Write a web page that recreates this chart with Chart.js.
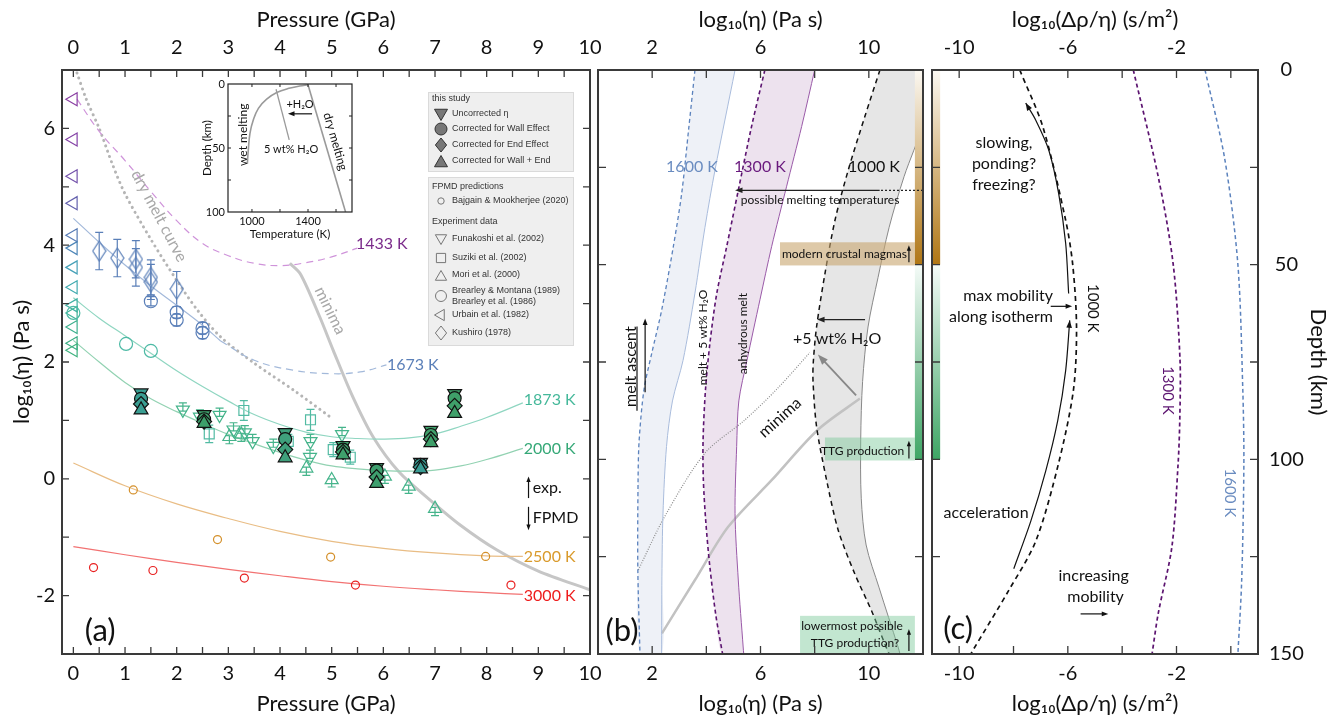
<!DOCTYPE html>
<html>
<head>
<meta charset="utf-8">
<script src="https://cdn.jsdelivr.net/npm/chart.js@4.4.1/dist/chart.umd.min.js"></script>
<style>
  html, body { margin:0; padding:0; background:#ffffff; }
  #wrap { position:relative; width:1336px; height:721px; overflow:hidden; background:#fff; }
  #wrap canvas { position:absolute; left:0; top:0; }
</style>
</head>
<body>
<div id="wrap">
  <canvas id="cA" width="1336" height="721"></canvas>
  <canvas id="cB" width="1336" height="721"></canvas>
  <canvas id="cC" width="1336" height="721"></canvas>
  <canvas id="cI" width="1336" height="721"></canvas>
</div>
<script>
// ================= DATA: panel (a) — pressure (GPa) vs log10 viscosity =================
const aPressureTicks = [0,0.5,1,1.5,2,2.5,3,3.5,4,4.5,5,5.5,6,6.5,7,7.5,8,8.5,9,9.5,10];
const aPressureLabels = [0,1,2,3,4,5,6,7,8,9,10];
const aEtaTicks = [-3,-2,-1,0,1,2,3,4,5,6,7];
const aEtaLabels = [-2,0,2,4,6];

const fit1433P = [0.07,0.5,1,1.5,2,2.5,3,3.5,4,4.5,5,5.5];
const fit1433Eta = [6.5,5.95,5.45,4.92,4.42,4.03,3.82,3.69,3.65,3.7,3.8,3.95];
const fit1673P = [0,0.5,1,1.5,2,2.5,2.85];
const fit1673Eta = [4.46,4.05,3.66,3.3,2.97,2.63,2.36];
const ext1673P = [2.85,3.5,4.25,5,5.55,6.06];
const ext1673Eta = [2.36,2.03,1.86,1.8,1.83,1.95];
const fit1873P = [0,0.5,1,1.5,2,2.5,3,3.5,4,4.5,5,5.5,6,6.5,7,7.5,8,8.7];
const fit1873Eta = [3.1,2.75,2.45,2.15,1.85,1.58,1.33,1.1,0.93,0.8,0.72,0.69,0.68,0.7,0.77,0.9,1.05,1.3];
const fit2000P = [0,0.5,1,1.5,2,2.5,3,3.5,4,4.5,5,5.5,6,6.5,7,7.5,8,8.7];
const fit2000Eta = [2.37,2.0,1.65,1.37,1.15,0.95,0.76,0.6,0.45,0.32,0.22,0.17,0.14,0.13,0.15,0.22,0.33,0.52];
const fit2500P = [0,1,2,3,4,5,6,7,8,8.7];
const fit2500Eta = [0.27,-0.12,-0.43,-0.68,-0.9,-1.07,-1.19,-1.27,-1.32,-1.33];
const fit3000P = [0,1,2,3,4,5,6,7,8,8.7];
const fit3000Eta = [-1.16,-1.3,-1.43,-1.55,-1.66,-1.76,-1.84,-1.9,-1.95,-1.98];
const dryMeltP = [0.07,0.25,0.5,0.75,1,1.5,2,2.4,2.85,3.5,4.26,4.97];
const dryMeltEta = [6.95,6.5,6.0,5.4,4.88,4.1,3.4,2.89,2.43,1.98,1.52,1.06];
const minimaP = [4.19,4.4,4.77,5.03,5.4,5.8,6.3,6.9,7.5,8.2,9,10];
const minimaEta = [3.69,3.5,2.77,2.2,1.42,0.72,0.12,-0.36,-0.8,-1.22,-1.58,-1.9];

// this study
const studyP = [1.31,2.53,4.1,5.22,5.87,6.72,6.92,7.38];
const studyUncorr = [1.47,1.1,0.79,0.57,0.19,0.28,0.83,1.46];
const studyWall = [1.37,1.02,0.68,0.5,0.14,0.24,0.75,1.38];
const studyEnd = [1.28,0.98,0.5,0.46,0.03,0.2,0.68,1.25];
const studyWallEnd = [1.18,0.95,0.36,0.41,-0.08,0.17,0.62,1.12];
// FPMD (Bajgain & Mookherjee 2020)
const baj2500P = [1.16,2.79,4.98,7.98];
const baj2500Eta = [-0.19,-1.04,-1.34,-1.33];
const baj3000P = [0.39,1.54,3.31,5.46,8.47];
const baj3000Eta = [-1.52,-1.57,-1.7,-1.82,-1.82];
// experiments
const funP = [2.12,2.45,2.83,3.1,3.32,3.47,3.87,4.59,4.58,5.2];
const funEta = [1.18,1.06,1.09,0.84,0.79,0.64,0.56,0.64,0.37,0.76];
const funErr = [0.07,0.07,0.07,0.07,0.07,0.07,0.07,0.07,0.07,0.07];
const suzP = [2.63,3.3,4.16,4.59,5.03,5.36];
const suzEta = [0.77,1.17,0.64,1.01,0.5,0.37];
const suzErr = [0.15,0.17,0.12,0.18,0.12,0.12];
const moriP = [3.02,3.25,4.51,5.0,6.03,6.49,7.0];
const moriEta = [0.72,0.76,0.18,-0.02,0.04,-0.13,-0.51];
const moriErr = [0.07,0.07,0.07,0.07,0.07,0.07,0.07];
const brear1673P = [1.5,2.0,2.0,2.5,2.5];
const brear1673Eta = [3.04,2.85,2.72,2.58,2.5];
const brear1673Err = [0.08,0.1,0.1,0.1,0.1];
const brear1873P = [0,1.02,1.5];
const brear1873Eta = [2.84,2.31,2.19];
const urbainP = [0,0,0,0,0,0,0,0,0,0,0,0,0];
const urbainEta = [6.5,5.81,5.18,4.72,4.17,3.95,3.62,3.28,2.97,2.84,2.6,2.32,2.2];
const kushiroP = [0.5,0.85,1.21,1.21,1.5,1.5,2.0];
const kushiroEta = [3.9,3.78,3.76,3.62,3.45,3.37,3.25];
const kushiroErr = [0.32,0.32,0.32,0.32,0.3,0.3,0.3];

// inset — temperature (K) vs depth (km)
const insetTTicks = [1000,1200,1400,1600];
const insetTLabels = [1000,1400];
const insetDTicks = [0,25,50,75,100];
const insetDLabels = [0,50,100];
const wetT = [967,974,986,1010,1046,1105,1177,1264,1340,1400];
const wetD = [62.5,51.4,38.4,28,19,11.9,6.7,3.4,1.6,0.6];
const wet5T = [1172,1266];
const wet5D = [4.1,43.6];
const dryT = [1400,1668];
const dryD = [0.6,100];

// ================= DATA: panel (b) — log10 viscosity vs depth =================
const bEtaTicks = [0,2,4,6,8,10,12];
const bEtaLabels = [2,6,10];
const depthTicks = [0,25,50,75,100,125,150];
const depthLabels = [0,50,100,150];
const b1600WetD = [0,15,31.7,45.4,61.7,72.9,82,95,105,128,150];
const b1600WetX = [3.58,3.35,3.09,2.78,2.35,1.98,1.7,1.52,1.48,1.47,1.55];
const b1600DryD = [0,25.7,40.4,57.3,74.6,85,96.7,113.8,130,150];
const b1600DryX = [5.06,4.32,3.95,3.58,3.14,2.75,2.53,2.4,2.36,2.35];
const b1300WetD = [0,14.5,30.9,45.4,57.6,70.3,82,95,105.3,116,127.6,140,150];
const b1300WetX = [6.16,5.67,5.18,4.75,4.38,4.13,3.97,3.88,3.89,3.98,4.13,4.35,4.6];
const b1300DryD = [0,14.5,30,45.4,59,74.6,85,96.7,113.9,131,148.2,150];
const b1300DryX = [8.0,7.52,6.96,6.41,5.98,5.5,5.2,5.12,5.06,5.18,5.36,5.38];
const b1000WetD = [0,12,25.7,38.6,52.3,66,75,80,91.6,105.3,118.2,129.4,138.9,147.6,150];
const b1000WetX = [10.41,9.85,9.24,8.75,8.38,8.07,7.95,7.94,8.07,8.44,8.87,9.48,10.1,10.6,10.75];
const b1000DryD = [0,13.7,27.4,40.4,53.3,66,80,95,110,122,133,148.2,150];
const b1000DryX = [12.3,12.0,11.3,10.75,10.34,9.97,9.77,9.7,9.72,9.9,10.38,11.08,11.15];
const bHydMinD = [128.4,114.6,98.4,89.9,82,72.6];
const bHydMinX = [1.49,2.47,3.95,5.42,6.6,7.82];
const bMinimaD = [144.7,131,117.4,105.3,92.4,84.4];
const bMinimaX = [2.36,3.58,4.8,6.42,8.12,9.67];

// ================= DATA: panel (c) — log10(Δρ/η) vs depth =================
const cMobTicks = [-10,-8,-6,-4,-2,0];
const cMobLabels = [-10,-6,-2];
const c1000D = [0,14.6,38.6,50,66,82,101,121,133.6,149,150];
const c1000X = [-7.77,-6.92,-6.08,-5.82,-5.68,-5.79,-6.34,-7.18,-8.17,-9.49,-9.57];
const c1300D = [0,27.5,50,74.6,90,101,122.5,139.5,150];
const c1300X = [-3.59,-2.67,-2.12,-1.87,-1.88,-1.94,-2.17,-2.67,-2.9];
const c1600D = [0,23,50,82,101,131,150];
const c1600X = [-0.95,-0.22,0.26,0.44,0.48,0.4,0.26];
const cSlowD = [57.4,44.5,31.6,20.6,12.9,8.5];
const cSlowX = [-5.97,-6.08,-6.34,-6.7,-7.18,-7.55];
const cAccelD = [128.1,115.8,102.9,90,77.2,64.3];
const cAccelX = [-7.99,-7.36,-6.81,-6.37,-6.08,-5.93];

// ================= helpers =================
Chart.defaults.font.family = 'Lato, "Open Sans", "DejaVu Sans", sans-serif';
Chart.defaults.color = '#111';
Chart.defaults.animation = false;
Chart.defaults.plugins.legend.display = false;
Chart.defaults.plugins.tooltip.enabled = false;

const mk = (xs, ys) => xs.map((x, i) => ({x: x, y: ys[i]}));
const curve = (xs, ys, color, extra) => Object.assign({data: mk(xs, ys), showLine: true, borderColor: color, borderWidth: 1.2, pointRadius: 0, tension: 0.4, fill: false, order: 10}, extra || {});
const band = (wx, wy, dx, dy, color) => ({data: mk(wx, wy).concat(mk(dx, dy).reverse()), showLine: true, borderWidth: 0, borderColor: 'rgba(0,0,0,0)', backgroundColor: color, fill: 'shape', pointRadius: 0, tension: 0.3, order: 30});
const marks = (xs, ys, style, r, color, extra) => Object.assign({data: mk(xs, ys), showLine: false, pointStyle: style, pointRadius: r, pointBorderColor: color, pointBackgroundColor: 'rgba(255,255,255,0)', pointBorderWidth: 1.2, order: 5}, extra || {});

// elongated open diamond glyph (Kushiro 1978 marker)
function diamondGlyph(w, h, color) {
  const c = document.createElement('canvas'); c.width = w + 2; c.height = h + 2;
  const g = c.getContext('2d'); g.strokeStyle = color; g.lineWidth = 1.2;
  g.beginPath(); g.moveTo(c.width / 2, 1); g.lineTo(c.width - 1, c.height / 2); g.lineTo(c.width / 2, c.height - 1); g.lineTo(1, c.height / 2); g.closePath(); g.stroke();
  return c;
}

function hAxis(pos, min, max, ticks, labels, title, h, pad, tpad, fs, tfs) {
  return {type: 'linear', position: pos, min: min, max: max,
    afterBuildTicks: s => { s.ticks = ticks.map(v => ({value: v})); },
    afterFit: s => { s.height = h; },
    grid: {display: false, drawTicks: false}, border: {display: false},
    ticks: {autoSkip: false, maxRotation: 0, minRotation: 0, padding: pad, color: '#111', font: {size: fs || 20},
      callback: v => labels.includes(v) ? String(v) : ''},
    title: {display: !!title, text: title, color: '#111', font: {size: tfs || 22}, padding: tpad}};
}
function vAxis(pos, min, max, ticks, labels, title, w, pad, tpad, reverse, fs, tfs, cross) {
  return {type: 'linear', position: pos, min: min, max: max, reverse: !!reverse,
    afterBuildTicks: s => { s.ticks = ticks.map(v => ({value: v})); },
    afterFit: s => { s.width = w; },
    grid: {display: false, drawTicks: false}, border: {display: false},
    ticks: {autoSkip: false, padding: pad, color: '#111', font: {size: fs || 20}, crossAlign: cross || 'near',
      callback: v => labels.includes(v) ? String(v) : ''},
    title: {display: !!title, text: title, color: '#111', font: {size: tfs || 22}, padding: tpad}};
}

function P(chart, x, y) { return [chart.scales.x.getPixelForValue(x), chart.scales.y.getPixelForValue(y)]; }
function head(ctx, x1, y1, x2, y2, size, color) {
  const ang = Math.atan2(y2 - y1, x2 - x1);
  ctx.save(); ctx.fillStyle = color; ctx.beginPath();
  ctx.moveTo(x2, y2);
  ctx.lineTo(x2 - size * Math.cos(ang - 0.36), y2 - size * Math.sin(ang - 0.36));
  ctx.lineTo(x2 - size * Math.cos(ang + 0.36), y2 - size * Math.sin(ang + 0.36));
  ctx.closePath(); ctx.fill(); ctx.restore();
}
function drawMarker(ctx, style, x, y, r, rot, fill, stroke, lw) {
  ctx.save(); ctx.beginPath();
  let a = (rot || 0) * Math.PI / 180;
  if (style === 'circle') ctx.arc(x, y, r, 0, Math.PI * 2);
  else if (style === 'triangle') {
    ctx.moveTo(x + Math.sin(a) * r, y - Math.cos(a) * r); a += 2 * Math.PI / 3;
    ctx.lineTo(x + Math.sin(a) * r, y - Math.cos(a) * r); a += 2 * Math.PI / 3;
    ctx.lineTo(x + Math.sin(a) * r, y - Math.cos(a) * r); ctx.closePath();
  } else if (style === 'rectRot') { ctx.moveTo(x, y - r); ctx.lineTo(x + r * 0.8, y); ctx.lineTo(x, y + r); ctx.lineTo(x - r * 0.8, y); ctx.closePath(); }
  else if (style === 'rect') { const s = r * Math.SQRT1_2; ctx.rect(x - s, y - s, 2 * s, 2 * s); }
  if (fill) { ctx.fillStyle = fill; ctx.fill(); }
  ctx.strokeStyle = stroke; ctx.lineWidth = lw; ctx.stroke(); ctx.restore();
}
function drawLegend(ctx) {
  ctx.save();
  ctx.fillStyle = '#efefef'; ctx.strokeStyle = '#dadada'; ctx.lineWidth = 1;
  ctx.fillRect(428.5, 92.5, 145, 79); ctx.strokeRect(428.5, 92.5, 145, 79);
  ctx.fillRect(428.5, 177.5, 145, 168); ctx.strokeRect(428.5, 177.5, 145, 168);
  ctx.font = '9px "Liberation Sans", Arial, sans-serif'; ctx.fillStyle = '#333';
  ctx.textAlign = 'left'; ctx.textBaseline = 'middle';
  const T = (s, x, y) => { ctx.fillStyle = '#333'; ctx.fillText(s, x, y); };
  T('this study', 432, 99);
  drawMarker(ctx, 'triangle', 441, 113, 7.5, 180, '#777', '#333', 1); T('Uncorrected η', 452, 114);
  drawMarker(ctx, 'circle', 441, 129, 6, 0, '#777', '#333', 1); T('Corrected for Wall Effect', 452, 129);
  drawMarker(ctx, 'rectRot', 441, 145, 7, 0, '#777', '#333', 1); T('Corrected for End Effect', 452, 145);
  drawMarker(ctx, 'triangle', 441, 163, 7.5, 0, '#777', '#333', 1); T('Corrected for Wall + End', 452, 161);
  T('FPMD predictions', 432, 187);
  drawMarker(ctx, 'circle', 441, 201, 3.2, 0, null, '#777', 1); T('Bajgain & Mookherjee (2020)', 452, 201);
  T('Experiment data', 432, 222);
  drawMarker(ctx, 'triangle', 441, 238, 6.5, 180, null, '#777', 1); T('Funakoshi et al. (2002)', 452, 239);
  drawMarker(ctx, 'rect', 441, 258, 6.5, 0, null, '#777', 1); T('Suziki et al. (2002)', 452, 258);
  drawMarker(ctx, 'triangle', 441, 277, 6.5, 0, null, '#777', 1); T('Mori et al. (2000)', 452, 275);
  drawMarker(ctx, 'circle', 441, 296, 5.5, 0, null, '#777', 1); T('Brearley & Montana (1989)', 452, 291); T('Brearley et al. (1986)', 452, 302);
  drawMarker(ctx, 'triangle', 441, 315, 6.5, 270, null, '#777', 1); T('Urbain et al. (1982)', 452, 315);
  drawMarker(ctx, 'rectRot', 441, 333, 7, 0, null, '#777', 1); T('Kushiro (1978)', 452, 333);
  ctx.restore();
}

const DECO = {};
const deco = {
  id: 'deco',
  beforeDraw(chart) {
    const o = DECO[chart.canvas.id]; if (!o || !o.whiteArea) return;
    const a = chart.chartArea, ctx = chart.ctx;
    ctx.save(); ctx.fillStyle = '#fff'; ctx.fillRect(a.left, a.top, a.right - a.left, a.bottom - a.top); ctx.restore();
  },
  beforeDatasetsDraw(chart) {
    const o = DECO[chart.canvas.id]; if (!o) return;
    const ctx = chart.ctx, a = chart.chartArea;
    ctx.save(); ctx.beginPath(); ctx.rect(a.left, a.top, a.right - a.left, a.bottom - a.top); ctx.clip();
    (o.errorBars || []).forEach(eb => {
      ctx.strokeStyle = eb.color; ctx.lineWidth = 1.2;
      eb.xs.forEach((xv, i) => {
        const [x, y1] = P(chart, xv, eb.ys[i] - eb.errs[i]);
        const y2 = P(chart, xv, eb.ys[i] + eb.errs[i])[1];
        ctx.beginPath(); ctx.moveTo(x, y1); ctx.lineTo(x, y2);
        ctx.moveTo(x - eb.cap, y1); ctx.lineTo(x + eb.cap, y1);
        ctx.moveTo(x - eb.cap, y2); ctx.lineTo(x + eb.cap, y2);
        ctx.stroke();
      });
    });
    ctx.restore();
  },
  afterDatasetsDraw(chart) {
    const o = DECO[chart.canvas.id]; if (!o) return;
    const ctx = chart.ctx, a = chart.chartArea;
    ctx.save(); ctx.beginPath(); ctx.rect(a.left, a.top, a.right - a.left, a.bottom - a.top); ctx.clip();
    (o.boxes || []).forEach(b => {
      const [x1, y1] = P(chart, b.x1, b.y1), [x2, y2] = P(chart, b.x2, b.y2);
      ctx.fillStyle = b.color; ctx.fillRect(Math.min(x1, x2), Math.min(y1, y2), Math.abs(x2 - x1), Math.abs(y2 - y1));
    });
    (o.strips || []).forEach(s => {
      const x1 = P(chart, s.x1, 0)[0], x2 = P(chart, s.x2, 0)[0];
      s.bands.forEach(b => {
        const y1 = P(chart, s.x1, b.d1)[1], y2 = P(chart, s.x1, b.d2)[1];
        const g = ctx.createLinearGradient(0, y1, 0, y2); g.addColorStop(0, b.c1); g.addColorStop(1, b.c2);
        ctx.fillStyle = g; ctx.fillRect(Math.min(x1, x2), y1, Math.abs(x2 - x1), y2 - y1);
      });
    });
    (o.segs || []).forEach(l => {
      const [x1, y1] = P(chart, l.x1, l.y1), [x2, y2] = P(chart, l.x2, l.y2);
      ctx.save(); ctx.strokeStyle = l.color || '#222'; ctx.lineWidth = l.w || 1.2; ctx.setLineDash(l.dash || []);
      ctx.beginPath(); ctx.moveTo(x1, y1); ctx.lineTo(x2, y2); ctx.stroke(); ctx.restore();
    });
    (o.arrows || []).forEach(l => {
      const [x1, y1] = P(chart, l.x1, l.y1), [x2, y2] = P(chart, l.x2, l.y2);
      const ang = Math.atan2(y2 - y1, x2 - x1), sz = l.size || 7;
      ctx.save(); ctx.strokeStyle = l.color || '#111'; ctx.lineWidth = l.w || 1.2;
      ctx.beginPath(); ctx.moveTo(x1, y1); ctx.lineTo(x2 - Math.cos(ang) * sz * 0.6, y2 - Math.sin(ang) * sz * 0.6); ctx.stroke(); ctx.restore();
      head(ctx, x1, y1, x2, y2, sz, l.color || '#111');
    });
    (o.heads || []).forEach(h => {
      const n = h.xs.length;
      const [x1, y1] = P(chart, h.xs[n - 2], h.ys[n - 2]), [x2, y2] = P(chart, h.xs[n - 1], h.ys[n - 1]);
      head(ctx, x1, y1, x2, y2, h.size || 8, h.color || '#111');
    });
    ctx.restore();
    (o.texts || []).forEach(t => {
      const [x, y] = P(chart, t.x, t.y);
      ctx.save(); ctx.translate(x, y); if (t.rot) ctx.rotate(t.rot * Math.PI / 180);
      ctx.font = t.font || '16px Lato'; ctx.fillStyle = t.color || '#111';
      ctx.textAlign = t.align || 'center'; ctx.textBaseline = 'middle';
      ctx.fillText(t.t, 0, 0); ctx.restore();
    });
    if (o.legend) drawLegend(ctx);
  },
  afterDraw(chart) {
    const o = DECO[chart.canvas.id]; if (!o || !o.frame) return;
    const f = o.frame, ctx = chart.ctx, a = chart.chartArea, xs = chart.scales.x, ys = chart.scales.y;
    ctx.save(); ctx.strokeStyle = f.color; ctx.lineWidth = f.tickWidth; ctx.beginPath();
    f.xTicks.forEach(v => { const p = xs.getPixelForValue(v); if (p <= a.left + 1 || p >= a.right - 1) return;
      ctx.moveTo(p, a.top); ctx.lineTo(p, a.top + f.len); ctx.moveTo(p, a.bottom); ctx.lineTo(p, a.bottom - f.len); });
    f.yTicks.forEach(v => { const p = ys.getPixelForValue(v); if (p <= a.top + 1 || p >= a.bottom - 1) return;
      ctx.moveTo(a.left, p); ctx.lineTo(a.left + f.len, p); ctx.moveTo(a.right, p); ctx.lineTo(a.right - f.len, p); });
    ctx.stroke();
    ctx.lineWidth = f.width; ctx.strokeRect(a.left, a.top, a.right - a.left, a.bottom - a.top);
    ctx.restore();
  }
};

// ================= colours =================
const col1433 = '#cf93da', col1673 = '#a3b9da', col1873 = '#8fd6c1', col2000 = '#92d2b2', col2500 = '#e9bd85', col3000 = '#f27272';
const blueMk = '#5a7fb8', tealMk = '#4dbaa5', greenMk = '#45b48b';
const studyColors = ['#3a9e92','#3d9f6a','#3fa07c','#3fa06c','#3e9f6e','#3a9c94','#3f9f6a','#3fa06a'];
const urbainColors = ['#8a3fa3','#8442a6','#7351aa','#6461ad','#567ab4','#4f87b8','#47a1b8','#42abb0','#3fb0a3','#3fb39a','#3eb08e','#3cad84','#3fb27f'];

// ================= Panel (a) =================
DECO.cA = {
  legend: true,
  frame: {xTicks: aPressureTicks, yTicks: aEtaTicks, len: 7, color: '#3a3a3a', width: 2, tickWidth: 1.3},
  errorBars: [
    {xs: kushiroP, ys: kushiroEta, errs: kushiroErr, color: blueMk, cap: 4},
    {xs: brear1673P, ys: brear1673Eta, errs: brear1673Err, color: blueMk, cap: 4},
    {xs: suzP, ys: suzEta, errs: suzErr, color: '#52bba3', cap: 4},
    {xs: funP, ys: funEta.map(v => v + 0.05), errs: funErr, color: greenMk, cap: 4},
    {xs: moriP, ys: moriEta.map(v => v - 0.05), errs: moriErr, color: greenMk, cap: 4}
  ],
  texts: [
    {t: '(a)', x: 0.52, y: -2.6, font: '31px Lato'},
    {t: '1433 K', x: 5.97, y: 4.02, color: '#7a2a8a', font: '16px Lato'},
    {t: '1673 K', x: 6.57, y: 1.95, color: '#5a7fb8', font: '16px Lato'},
    {t: '1873 K', x: 9.22, y: 1.35, color: '#45b89a', font: '16px Lato'},
    {t: '2000 K', x: 9.22, y: 0.51, color: '#35a877', font: '16px Lato'},
    {t: '2500 K', x: 9.22, y: -1.33, color: '#d99a2b', font: '16px Lato'},
    {t: '3000 K', x: 9.22, y: -2.0, color: '#ee1c1c', font: '16px Lato'},
    {t: 'exp.', x: 8.89, y: -0.15, align: 'left', font: '16px Lato'},
    {t: 'FPMD', x: 8.89, y: -0.67, align: 'left', font: '16px Lato'},
    {t: 'dry melt curve', x: 1.66, y: 4.5, rot: 62, color: '#a8a8a8', font: '16px Lato'},
    {t: 'minima', x: 4.97, y: 2.88, rot: 64, color: '#a8a8a8', font: '16px Lato'}
  ],
  arrows: [
    {x1: 8.81, y1: -0.33, x2: 8.81, y2: 0.04, size: 6},
    {x1: 8.81, y1: -0.48, x2: 8.81, y2: -0.88, size: 6}
  ]
};
new Chart(document.getElementById('cA'), {
  type: 'scatter',
  data: {datasets: [
    marks(studyP, studyWallEnd, 'triangle', 8, '#111', {pointBackgroundColor: studyColors, order: 0}),
    marks(studyP, studyEnd, 'rectRot', 7.5, '#111', {pointBackgroundColor: studyColors, order: 1}),
    marks(studyP, studyWall, 'circle', 6.5, '#111', {pointBackgroundColor: studyColors, order: 2}),
    marks(studyP, studyUncorr, 'triangle', 8, '#111', {pointBackgroundColor: studyColors, pointRotation: 180, order: 3}),
    marks(funP, funEta, 'triangle', 7.5, greenMk, {pointRotation: 180}),
    marks(moriP, moriEta, 'triangle', 7.5, greenMk),
    marks(suzP, suzEta, 'rect', 7, '#52bba3'),
    marks(kushiroP, kushiroEta, diamondGlyph(13, 20, blueMk), 9, blueMk),
    marks(brear1673P, brear1673Eta, 'circle', 6.5, blueMk),
    marks(brear1873P, brear1873Eta, 'circle', 6.5, tealMk),
    marks(urbainP, urbainEta, 'triangle', 7.5, urbainColors, {pointRotation: 270}),
    marks(baj2500P, baj2500Eta, 'circle', 4, '#d4902a'),
    marks(baj3000P, baj3000Eta, 'circle', 4, '#e82020'),
    curve(fit1433P, fit1433Eta, col1433, {borderDash: [7, 5]}),
    curve(fit1673P, fit1673Eta, col1673),
    curve(ext1673P, ext1673Eta, col1673, {borderDash: [7, 5]}),
    curve(fit1873P, fit1873Eta, col1873),
    curve(fit2000P, fit2000Eta, col2000),
    curve(fit2500P, fit2500Eta, col2500),
    curve(fit3000P, fit3000Eta, col3000),
    curve(dryMeltP, dryMeltEta, '#b5b5b5', {borderWidth: 3, borderDash: [0.1, 5.5], borderCapStyle: 'round', tension: 0.3}),
    curve(minimaP, minimaEta, '#c6c6c6', {borderWidth: 3, tension: 0.3})
  ]},
  options: {
    responsive: false, devicePixelRatio: 1, animation: false,
    layout: {padding: {left: 0, right: 746, top: 0, bottom: 0}},
    scales: {
      x: hAxis('bottom', -0.22, 10, aPressureTicks, aPressureLabels, 'Pressure (GPa)', 67, 8, {top: 7, bottom: 4}),
      x2: hAxis('top', -0.22, 10, aPressureTicks, aPressureLabels, 'Pressure (GPa)', 70, 10, {top: 7, bottom: 4}),
      y: vAxis('left', -3, 7, aEtaTicks, aEtaLabels, 'log₁₀(η) (Pa s)', 62, 7, {top: 9}, false)
    },
    plugins: {legend: {display: false}, tooltip: {enabled: false}}
  },
  plugins: [deco]
});

// ================= Panel (b) =================
const brownBand = {d1: 0, d2: 50, c1: '#fbf8f2', c2: '#b07614'};
const greenBand = {d1: 50, d2: 100, c1: '#f5fbf8', c2: '#3ea565'};
DECO.cB = {
  frame: {xTicks: bEtaTicks, yTicks: depthTicks, len: 8, color: '#3a3a3a', width: 2, tickWidth: 1.3},
  boxes: [
    {x1: 6.72, x2: 11.7, y1: 44.25, y2: 50.2, color: 'rgba(200,165,110,0.6)'},
    {x1: 8.38, x2: 11.7, y1: 94.4, y2: 100.3, color: 'rgba(120,200,150,0.45)'},
    {x1: 7.46, x2: 11.7, y1: 140.2, y2: 150, color: 'rgba(120,200,150,0.45)'}
  ],
  strips: [{x1: 11.7, x2: 12, bands: [brownBand, greenBand]}],
  segs: [
    {x1: 12, y1: 30.9, x2: 10.4, y2: 30.9, dash: [2, 2], color: '#222'},
    {x1: 1.44, y1: 65.9, x2: 1.44, y2: 87.5, color: '#111', w: 1.2}
  ],
  arrows: [
    {x1: 10.4, y1: 30.9, x2: 5.06, y2: 30.9, color: '#222', size: 8},
    {x1: 9.86, y1: 64.1, x2: 8.09, y2: 64.1, color: '#222', size: 8},
    {x1: 9.53, y1: 83.6, x2: 8.12, y2: 73.1, color: '#888', w: 1.8, size: 11},
    {x1: 11.48, y1: 49.4, x2: 11.48, y2: 45, size: 6},
    {x1: 11.48, y1: 99.8, x2: 11.48, y2: 95.2, size: 6},
    {x1: 11.48, y1: 149.2, x2: 11.48, y2: 143.6, size: 6},
    {x1: 1.74, y1: 82.8, x2: 1.74, y2: 63.8, size: 7}
  ],
  texts: [
    {t: '1600 K', x: 3.47, y: 25, color: '#6a8cc0', font: '16px Lato'},
    {t: '1300 K', x: 5.98, y: 25, color: '#6a1a7e', font: '16px Lato'},
    {t: '1000 K', x: 10.19, y: 25, color: '#111', font: '16px Lato'},
    {t: 'possible melting temperatures', x: 8.2, y: 33.3, font: '12px Lato'},
    {t: 'modern crustal magmas', x: 9.1, y: 47.3, font: '12px Lato'},
    {t: '+5 wt% H₂O', x: 8.83, y: 69, font: '16px Lato'},
    {t: 'melt + 5 wt% H₂O', x: 3.88, y: 68.7, rot: -90, font: '12px Lato'},
    {t: 'anhydrous melt', x: 5.35, y: 67.7, rot: -90, font: '12px Lato'},
    {t: 'melt ascent', x: 1.2, y: 76.2, rot: -90, font: '16px Lato'},
    {t: 'minima', x: 6.72, y: 89.3, rot: -42, font: '16px Lato'},
    {t: 'TTG production', x: 9.77, y: 97.8, font: '12px Lato'},
    {t: 'lowermost possible', x: 9.38, y: 142.8, font: '12px Lato'},
    {t: 'TTG production?', x: 9.49, y: 147.2, font: '12px Lato'},
    {t: '(b)', x: 0.89, y: 144.1, font: '31px Lato'}
  ]
};
new Chart(document.getElementById('cB'), {
  type: 'scatter',
  data: {datasets: [
    curve(b1600WetX, b1600WetD, '#5b82bd', {borderDash: [4, 3], borderWidth: 1.3, tension: 0.3, order: 5}),
    curve(b1600DryX, b1600DryD, '#a9bcdc', {borderWidth: 1, tension: 0.3, order: 5}),
    curve(b1300WetX, b1300WetD, '#5c1470', {borderDash: [4, 3], borderWidth: 1.6, tension: 0.3, order: 5}),
    curve(b1300DryX, b1300DryD, '#9a5aa8', {borderWidth: 1, tension: 0.3, order: 5}),
    curve(b1000WetX, b1000WetD, '#111', {borderDash: [5, 4], borderWidth: 1.5, tension: 0.3, order: 5}),
    curve(b1000DryX, b1000DryD, '#888', {borderWidth: 1, tension: 0.3, order: 5}),
    curve(bHydMinX, bHydMinD, '#8a8a8a', {borderDash: [1, 1.5], borderWidth: 1.2, tension: 0.3, order: 6}),
    curve(bMinimaX, bMinimaD, '#c2c2c2', {borderWidth: 2.5, tension: 0.3, order: 7}),
    band(b1600WetX, b1600WetD, b1600DryX, b1600DryD, '#eef1f7'),
    band(b1300WetX, b1300WetD, b1300DryX, b1300DryD, '#ede2ee'),
    band(b1000WetX, b1000WetD, b1000DryX, b1000DryD, '#e6e6e6')
  ]},
  options: {
    responsive: false, devicePixelRatio: 1, animation: false,
    layout: {padding: {left: 598, right: 413, top: 0, bottom: 0}},
    scales: {
      x: hAxis('bottom', 0, 12, bEtaTicks, bEtaLabels, 'log₁₀(η) (Pa s)', 67, 8, {top: 7, bottom: 4}),
      x2: hAxis('top', 0, 12, bEtaTicks, bEtaLabels, 'log₁₀(η) (Pa s)', 70, 10, {top: 7, bottom: 4}),
      y: {type: 'linear', display: false, min: 0, max: 150, reverse: true}
    },
    plugins: {legend: {display: false}, tooltip: {enabled: false}}
  },
  plugins: [deco]
});

// ================= Panel (c) =================
DECO.cC = {
  frame: {xTicks: cMobTicks, yTicks: depthTicks, len: 8, color: '#3a3a3a', width: 2, tickWidth: 1.3},
  strips: [{x1: -11, x2: -10.7, bands: [brownBand, greenBand]}],
  arrows: [
    {x1: -6.63, y1: 60.7, x2: -5.84, y2: 60.7, size: 7},
    {x1: -5.53, y1: 139.7, x2: -4.51, y2: 139.7, size: 7}
  ],
  heads: [
    {xs: cSlowX, ys: cSlowD, size: 8},
    {xs: cAccelX, ys: cAccelD, size: 8}
  ],
  texts: [
    {t: 'slowing,', x: -8.35, y: 18.8, font: '16px Lato'},
    {t: 'ponding?', x: -8.35, y: 24.2, font: '16px Lato'},
    {t: 'freezing?', x: -8.35, y: 29.6, font: '16px Lato'},
    {t: 'max mobility', x: -8.2, y: 57.9, font: '16px Lato'},
    {t: 'along isotherm', x: -8.46, y: 63.3, font: '16px Lato'},
    {t: '1000 K', x: -5.09, y: 61.2, rot: 90, font: '15px Lato'},
    {t: '1300 K', x: -2.31, y: 82.3, rot: 90, color: '#5c1470', font: '15px Lato'},
    {t: '1600 K', x: -0.04, y: 108.6, rot: 90, color: '#6a8cc0', font: '15px Lato'},
    {t: 'acceleration', x: -9.01, y: 113.7, font: '16px Lato'},
    {t: 'increasing', x: -5.05, y: 129.9, font: '16px Lato'},
    {t: 'mobility', x: -4.98, y: 135.3, font: '16px Lato'},
    {t: '(c)', x: -10.04, y: 143.6, font: '31px Lato'}
  ]
};
new Chart(document.getElementById('cC'), {
  type: 'scatter',
  data: {datasets: [
    curve(c1000X, c1000D, '#111', {borderDash: [5, 4], borderWidth: 1.7, tension: 0.3}),
    curve(c1300X, c1300D, '#5c1470', {borderDash: [4, 3], borderWidth: 1.7, tension: 0.3}),
    curve(c1600X, c1600D, '#5b82bd', {borderDash: [4, 3], borderWidth: 1.5, tension: 0.3}),
    curve(cSlowX, cSlowD, '#111', {borderWidth: 1.2, tension: 0.3}),
    curve(cAccelX, cAccelD, '#111', {borderWidth: 1.2, tension: 0.3})
  ]},
  options: {
    responsive: false, devicePixelRatio: 1, animation: false,
    layout: {padding: {left: 932, right: 0, top: 0, bottom: 0}},
    scales: {
      x: hAxis('bottom', -11, 1, cMobTicks, cMobLabels, 'log₁₀(Δρ/η) (s/m²)', 67, 8, {top: 7, bottom: 4}),
      x2: hAxis('top', -11, 1, cMobTicks, cMobLabels, 'log₁₀(Δρ/η) (s/m²)', 70, 10, {top: 7, bottom: 4}),
      y: vAxis('right', 0, 150, depthTicks, depthLabels, 'Depth (km)', 78, 11, {top: 5}, true, 20, 22, 'center')
    },
    plugins: {legend: {display: false}, tooltip: {enabled: false}}
  },
  plugins: [deco]
});

// ================= Inset =================
DECO.cI = {
  whiteArea: true,
  frame: {xTicks: insetTTicks, yTicks: insetDTicks, len: 3, color: '#222', width: 1.2, tickWidth: 1},
  arrows: [{x1: 1429, y1: 23.3, x2: 1257, y2: 23.3, size: 7}],
  texts: [
    {t: '+H₂O', x: 1343, y: 16.3, font: '11px Lato'},
    {t: 'wet melting', x: 936, y: 39.7, rot: -90, font: '12px Lato'},
    {t: '5 wt% H₂O', x: 1279, y: 51.4, font: '11px Lato'},
    {t: 'dry melting', x: 1595, y: 45, rot: 74, font: '12px Lato'}
  ]
};
new Chart(document.getElementById('cI'), {
  type: 'scatter',
  data: {datasets: [
    curve(wetT, wetD, '#9a9a9a', {borderWidth: 1.6, tension: 0.4}),
    curve(wet5T, wet5D, '#9a9a9a', {borderWidth: 1.3, tension: 0}),
    curve(dryT, dryD, '#9a9a9a', {borderWidth: 1.6, tension: 0})
  ]},
  options: {
    responsive: false, devicePixelRatio: 1, animation: false,
    layout: {padding: {left: 200, right: 984, top: 84, bottom: 479}},
    scales: {
      x: hAxis('bottom', 829, 1714, insetTTicks, insetTLabels, 'Temperature (K)', 30, 3, {top: 0, bottom: 1}, 11, 11.5),
      y: vAxis('left', 0, 100, insetDTicks, insetDLabels, 'Depth (km)', 28, 3, {top: 0}, true, 11, 11.5)
    },
    plugins: {legend: {display: false}, tooltip: {enabled: false}}
  },
  plugins: [deco]
});
</script>
</body>
</html>
